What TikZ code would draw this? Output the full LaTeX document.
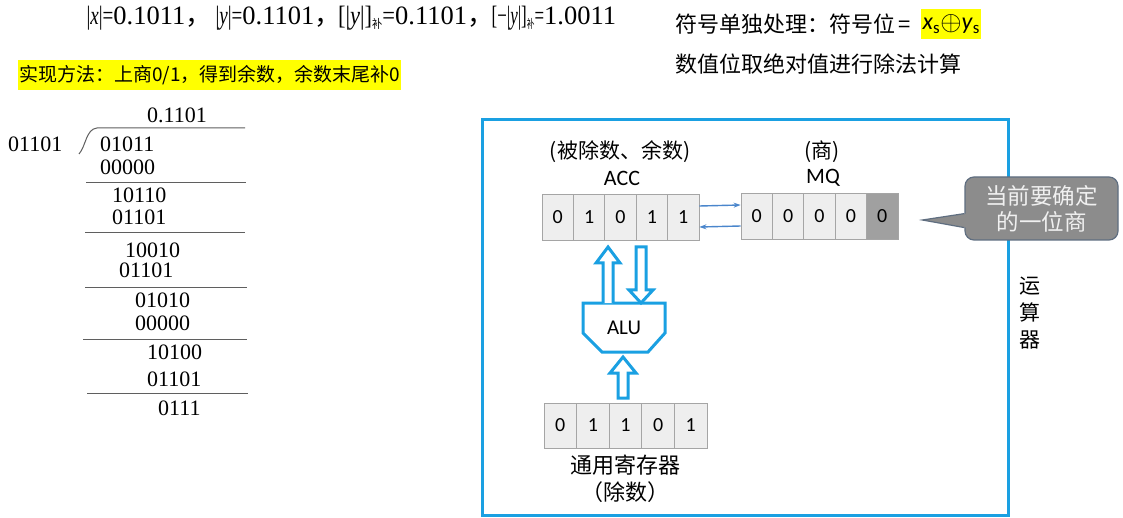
\documentclass[tikz,border=0pt]{standalone}
\usepackage{graphicx}
\usepackage{fontspec}
\setmainfont{Liberation Serif}
\newfontfamily\cjk{Noto Sans CJK SC}
\newfontfamily\calib{Carlito}
\usetikzlibrary{calc,arrows.meta}
\definecolor{boxblue}{RGB}{26,160,226}
\definecolor{linkblue}{RGB}{74,134,204}
\definecolor{cellfill}{RGB}{238,238,238}
\definecolor{celledge}{RGB}{165,165,165}
\definecolor{celldark}{RGB}{160,160,160}
\definecolor{notefill}{RGB}{140,140,140}
\definecolor{noteedge}{RGB}{95,110,128}
\definecolor{notetext}{RGB}{240,240,240}
\definecolor{hl}{RGB}{255,255,0}
\definecolor{rulegray}{RGB}{95,95,95}
\newcommand{\bu}{\raisebox{-4pt}{\cjk\fontsize{12}{12}\selectfont 补}}
\newcommand{\vb}{\textbar}
\newcommand{\fcomma}{\makebox[11pt][l]{\cjk ，}}
\begin{document}
\begin{tikzpicture}[x=1pt,y=-1pt,
  num/.style={inner sep=0pt, anchor=west, font=\fontsize{22}{26}\selectfont},
  fnum/.style={inner sep=0pt, anchor=base west, font=\fontsize{26.5}{30}\selectfont},
  divrule/.style={draw=rulegray, line width=1pt},
  cjktext/.style={inner sep=0pt, anchor=west, font=\cjk\fontsize{22}{26}\selectfont},
  cell/.style={draw=celledge, fill=cellfill, line width=0.8pt, minimum width=31.4pt,
    minimum height=46pt, inner sep=0pt, font=\calib\fontsize{20}{24}\selectfont},
  reglabel/.style={inner sep=0pt, font=\calib\fontsize{22}{26}\selectfont},
  hollow/.style={draw=boxblue, line width=3pt, fill=white, line join=miter},
  link/.style={draw=linkblue, line width=1.4pt, -{Stealth[length=7pt,width=5pt]}},
  notebox/.style={draw=noteedge, fill=notefill, line width=1.2pt, rounded corners=9pt,
    minimum width=153pt, minimum height=63pt, align=center, text=notetext,
    font=\cjk\fontsize{22.5}{26}\selectfont}
]
\fill[white] (0,0) rectangle (1123,518);
\useasboundingbox (0,0) rectangle (1123,518);

% absolute values and complements
\node[fnum] (fx) at (86.4,25) {\scalebox{0.72}[1]{\vb\textit{x}\vb=}0.1011\fcomma};
\node[fnum] (fy) at (215.4,25) {\scalebox{0.72}[1]{\vb\textit{y}\vb=}0.1101\fcomma};
\node[fnum] (fyc) at (338,25) {\scalebox{0.85}[1]{[\vb\textit{y}\vb]\bu=}0.1101\fcomma};
\node[fnum] (fnyc) at (491.5,25) {\scalebox{0.64}[1]{[−\vb\textit{y}\vb]\bu=}1.0011};

% method, highlighted
\node[cjktext, fill=hl, inner xsep=1pt, minimum height=30pt, font=\cjk\fontsize{19}{24}\selectfont]
  (method) at (18,75) {实现方法：上商0/1，得到余数，余数末尾补0};

% sign handling
\node[cjktext] (sign) at (675,24) {符号单独处理：符号位\,=\,};
\node[inner sep=0pt, anchor=west, fill=hl, minimum height=30pt, inner xsep=1.5pt,
  font=\calib\fontsize{24}{28}\selectfont] (signxor) at ([xshift=6pt]sign.east)
  {\textit{x}\textsubscript{s}\raisebox{-0.5pt}{\scalebox{1.1}{$\oplus$}}\textit{y}\textsubscript{s}};
\node[cjktext] (magn) at (675,64) {数值位取绝对值进行除法计算};

% long division
\node[num] (quot) at (147,115) {0.1101};
\node[num] (divisor) at (8,144) {01101};
\foreach \t/\x/\y [count=\k] in {01011/100/144, 00000/100/167, 10110/112/195, 01101/112/217,
  10010/125/250, 01101/119/270, 01010/135/300, 00000/135/323,
  10100/147/352, 01101/147/379, 0111/158/408}
  \node[num] (row\k) at (\x,\y) {\t};
\draw[divrule] (79,154) .. controls (86,146) and (86,129) .. (97,128) -- (245,128);
\draw[divrule] (86,183) -- (246,183);
\draw[divrule] (85,233) -- (245,233);
\draw[divrule] (85,288) -- (247,288);
\draw[divrule] (83,339) -- (247,339);
\draw[divrule] (87,393) -- (248,393);

% arithmetic unit frame
\draw[boxblue, line width=3pt] (482,120) rectangle (1008,515);

% ACC
\foreach \b [count=\i] in {0,1,0,1,1}
  \node[cell] (acc\i) at ({557.7+31.4*(\i-1)},217) {\b};
\node[reglabel, font=\cjk\fontsize{21}{26}\selectfont] (acclab) at (620,152) {(被除数、余数)};
\node[reglabel] (accname) at (622,178) {ACC};

% MQ
\foreach \b [count=\i] in {0,0,0,0}
  \node[cell] (mq\i) at ({756.7+31.4*(\i-1)},216) {\b};
\node[cell, fill=celldark] (mq5) at ({756.7+31.4*4},216) {0};
\node[reglabel, font=\cjk\fontsize{21}{26}\selectfont] (mqlab) at (822,152) {(商)};
\node[reglabel] (mqname) at (823,178) {MQ};

% transfers between ACC and MQ
\draw[link] ($(acc5.east)+(0,-11)$) -- ($(mq1.west)+(0,-11)$);
\draw[link] ($(mq1.west)+(0,10)$) -- ($(acc5.east)+(0,10)$);

% general register
\foreach \b [count=\i] in {0,1,1,0,1}
  \node[cell, minimum width=32.6pt, minimum height=45pt] (gr\i) at ({560.3+32.6*(\i-1)},425.5) {\b};
\node[cjktext, anchor=center] (grname) at (625,465) {通用寄存器};
\node[cjktext, anchor=center] (grrole) at (625,492) {（除数）};

% ALU
\draw[hollow] (583,303) -- (665,303) -- (665,333) -- (648,352) -- (602,352) -- (583,333) -- cycle;
\node[reglabel, font=\calib\fontsize{21}{26}\selectfont] (alu) at (624,328) {ALU};

% wide data paths
\draw[hollow] (603,303) -- (603,263) -- (596,263) -- (608,247) -- (620,263) -- (613,263) -- (613,303);
\draw[hollow] (636,247) -- (646,247) -- (646,290) -- (653,290) -- (641,303) -- (629,290) -- (636,290) -- cycle;
\draw[hollow] (618,398) -- (618,373) -- (610,373) -- (623,357) -- (636,373) -- (628,373) -- (628,398) -- cycle;

% unit name
\node[font=\cjk\fontsize{21}{27}\selectfont, align=center, inner sep=0pt] (unitname) at (1030,313) {运\\算\\器};

% note on the current quotient bit
\coordinate (tip) at ($(mq5.east)+(24,4)$);
\node[notebox] (note) at (1041.5,208.5) {当前要确定\\的一位商};
\fill[notefill] ($(note.south west)+(1.5,-13)$) -- (tip) -- ($(note.south west)+(1.5,-27)$) -- cycle;
\draw[noteedge, line width=1.2pt, line join=miter] ($(note.south west)+(0,-13)$) -- (tip) -- ($(note.south west)+(0,-27)$);
\end{tikzpicture}
\end{document}
